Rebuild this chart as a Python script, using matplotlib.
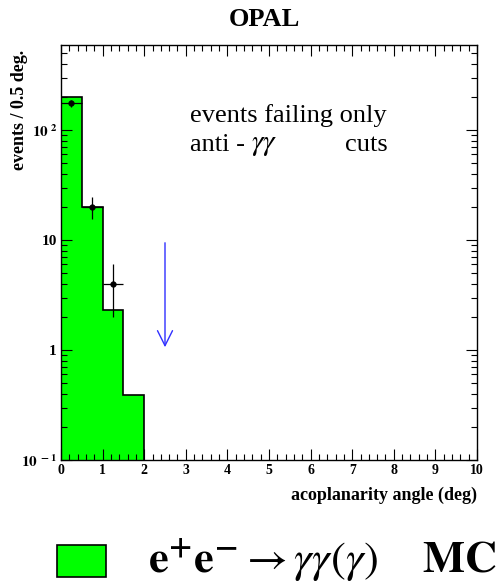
import numpy as np
import matplotlib
matplotlib.use("Agg")
import matplotlib.pyplot as plt
from matplotlib.patches import Rectangle
from matplotlib.ticker import FixedLocator, MultipleLocator, NullFormatter

plt.rcParams['font.family'] = ['Liberation Serif', 'DejaVu Serif']
plt.rcParams['mathtext.fontset'] = 'stix'

# MC histogram (0.5 deg bins) and data points with errors
bin_edges = [0.0, 0.5, 1.0, 1.5, 2.0]
mc_counts = [201, 19.8, 2.3, 0.39]
data_x = [0.25, 0.75, 1.25]
data_y = [175, 20, 4]
data_err = [13.2, 4.5, 2.0]
cut_value = 2.5
x_ticks = [0, 1, 2, 3, 4, 5, 6, 7, 8, 9, 10]
y_ticks = [0.1, 1, 10, 100]
y_ticklabels = ['$\\mathbf{10^{\\ -1}}$', '1', '10', '$\\mathbf{10^{\\ 2}}$']

fig = plt.figure(figsize=(5.03, 5.85), dpi=100)
ax = fig.add_axes([61 / 503, 1 - 460 / 585, 416 / 503, 415 / 585])

ax.stairs(mc_counts, bin_edges, fill=True, color='#00ff00', baseline=0.1)
ax.stairs(mc_counts, bin_edges, color='black', lw=1.2, baseline=0.1)

ax.errorbar(data_x, data_y, yerr=data_err, xerr=0.25, fmt='o', color='black',
            ms=3.5, elinewidth=0.9, capsize=0)

# cut position
ax.annotate('', xy=(cut_value, 1), xytext=(cut_value, 10),
            arrowprops=dict(arrowstyle='->,head_width=0.3,head_length=0.6',
                            color='#3030ff', lw=1.0, mutation_scale=18))

ax.set_yscale('log')
ax.set_xlim(0, 10)
ax.set_ylim(0.1, 10 ** (2 + 85 / 110))

ax.xaxis.set_major_locator(FixedLocator(x_ticks))
ax.xaxis.set_minor_locator(MultipleLocator(0.2))
ax.set_xticklabels([str(t) for t in x_ticks], fontweight='bold', fontsize=10)
ax.set_yticks(y_ticks)
ax.set_yticklabels(y_ticklabels, fontweight='bold', fontsize=11)
ax.yaxis.set_minor_formatter(NullFormatter())
ax.tick_params(which='both', direction='in', top=True, right=True)
ax.tick_params(which='major', length=8, width=0.8, pad=3)
ax.tick_params(which='minor', length=4, width=0.8)
for s in ax.spines.values():
    s.set_linewidth(1.0)

ax.text(0.31, 0.831, 'events failing only', transform=ax.transAxes,
        fontsize=19, va='center')
ax.text(0.31, 0.759, 'anti -', transform=ax.transAxes,
        fontsize=19, va='center')
ax.text(0.457, 0.759, '$\\gamma\\gamma$', transform=ax.transAxes,
        fontsize=21, va='center')
ax.text(0.683, 0.759, 'cuts', transform=ax.transAxes,
        fontsize=19, va='center')

ax.set_ylabel('events / 0.5 deg.', fontweight='bold', fontsize=13, loc='top')
ax.yaxis.set_label_coords(-0.079, 0.988)
ax.set_xlabel('acoplanarity angle (deg)', fontweight='bold', fontsize=13,
              loc='right')
ax.xaxis.set_label_coords(1.0, -0.065)

fig.text(264 / 503, 1 - 19 / 585, 'OPAL', fontweight='bold', fontsize=19,
         ha='center', va='center')

fig.patches.append(Rectangle((57 / 503, 1 - 577 / 585), 49 / 503, 32 / 585,
                             transform=fig.transFigure, facecolor='#00ff00',
                             edgecolor='black', lw=1.2))
fig.text(148 / 503, 1 - 560 / 585,
         '$\\mathbf{e^{+}e^{-}} \\rightarrow \\gamma\\gamma(\\gamma)$    $\\mathbf{MC}$',
         fontsize=32, va='center')

fig.savefig('out.png', dpi=100)
